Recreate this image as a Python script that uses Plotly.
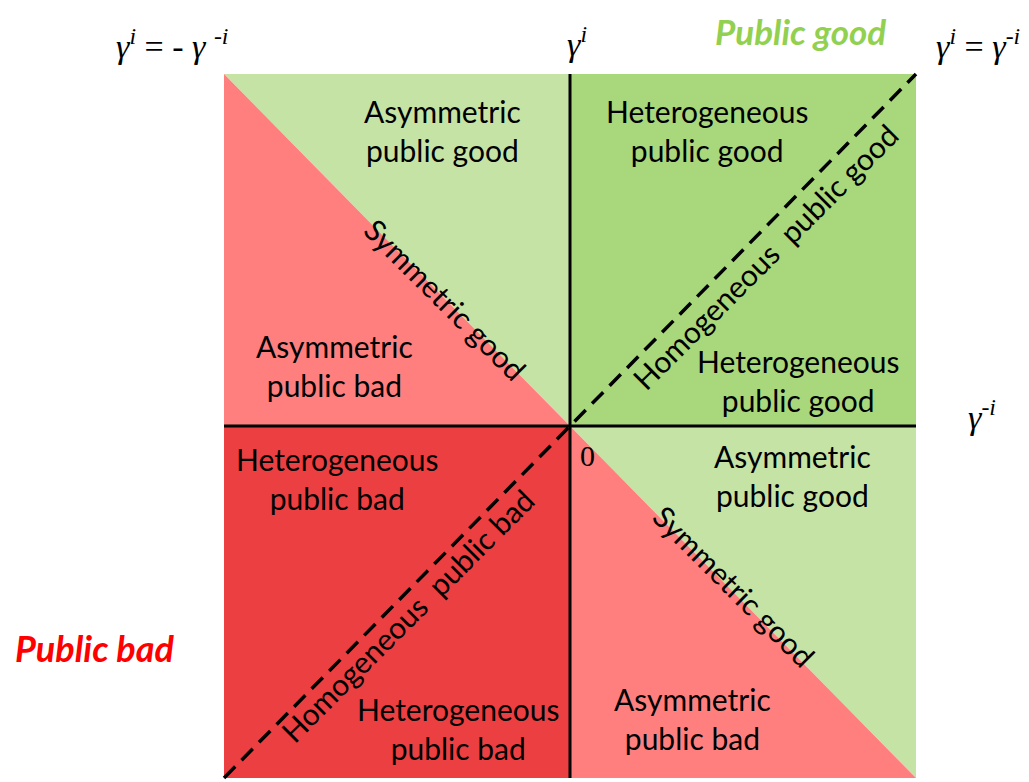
import plotly.graph_objects as go

# Region polygons in (gamma^-i, gamma^i) space
hetero_good_x = [0, 1, 1, 0]
hetero_good_y = [0, 0, 1, 1]
hetero_bad_x = [-1, 0, 0, -1]
hetero_bad_y = [-1, -1, 0, 0]
asym_good_tl_x = [-1, 0, 0]
asym_good_tl_y = [1, 1, 0]
asym_bad_tl_x = [-1, -1, 0]
asym_bad_tl_y = [1, 0, 0]
asym_good_br_x = [0, 1, 1]
asym_good_br_y = [0, 0, -1]
asym_bad_br_x = [0, 0, 1]
asym_bad_br_y = [0, -1, -1]

# Region labels: (text, x, y, angle)
region_labels = [
    ("Asymmetric<br>public good", -0.368, 0.84, 0),
    ("Heterogeneous<br>public good", 0.395, 0.84, 0),
    ("Asymmetric<br>public bad", -0.68, 0.172, 0),
    ("Heterogeneous<br>public good", 0.66, 0.13, 0),
    ("Heterogeneous<br>public bad", -0.673, -0.148, 0),
    ("Asymmetric<br>public good", 0.642, -0.142, 0),
    ("Heterogeneous<br>public bad", -0.324, -0.858, 0),
    ("Asymmetric<br>public bad", 0.353, -0.83, 0),
]
line_labels = [
    ("Symmetric good", -0.36, 0.36, 45),
    ("Homogeneous  public good", 0.565, 0.483, -45),
    ("Homogeneous  public bad", -0.47, -0.537, -45),
    ("Symmetric good", 0.476, -0.454, 45),
]

C_LG = "#C6E3A6"
C_G = "#A9D77C"
C_LR = "#FF7F7F"
C_R = "#EC3F41"

fig = go.Figure()
for xs, ys, c in [
    (hetero_good_x, hetero_good_y, C_G),
    (hetero_bad_x, hetero_bad_y, C_R),
    (asym_good_tl_x, asym_good_tl_y, C_LG),
    (asym_bad_tl_x, asym_bad_tl_y, C_LR),
    (asym_good_br_x, asym_good_br_y, C_LG),
    (asym_bad_br_x, asym_bad_br_y, C_LR),
]:
    fig.add_trace(go.Scatter(x=xs, y=ys, fill="toself", fillcolor=c, mode="none",
                             hoverinfo="skip", showlegend=False))

# axes lines
fig.add_trace(go.Scatter(x=[-1, 1], y=[0, 0], mode="lines", line=dict(color="black", width=3),
                         showlegend=False, hoverinfo="skip"))
fig.add_trace(go.Scatter(x=[0, 0], y=[-1, 1], mode="lines", line=dict(color="black", width=3),
                         showlegend=False, hoverinfo="skip"))
fig.add_trace(go.Scatter(x=[-1, 1], y=[-1, 1], mode="lines",
                         line=dict(color="black", width=3.5, dash="16px,9px"),
                         showlegend=False, hoverinfo="skip"))

for t, x, y, a in region_labels + line_labels:
    fig.add_annotation(x=x, y=y, text=t, showarrow=False, textangle=a,
                       font=dict(family="Lato", size=30, color="black"))

math_labels = [
    ("<i>γ<sup>i</sup></i> = - <i>γ</i> <sup><i>-i</i></sup>", -1.15, 1.085),
    ("<i>γ<sup>i</sup></i>", 0.02, 1.09),
    ("<i>γ<sup>i</sup></i> = <i>γ<sup>-i</sup></i>", 1.18, 1.085),
    ("<i>γ<sup>-i</sup></i>", 1.19, 0.03),
]
for t, x, y in math_labels:
    fig.add_annotation(x=x, y=y, text=t, showarrow=False,
                       font=dict(family="Liberation Serif", size=34, color="black"))
fig.add_annotation(x=0.05, y=-0.085, text="0", showarrow=False,
                   font=dict(family="Liberation Serif", size=30, color="black"))
fig.add_annotation(x=0.665, y=1.0, xref="x", yref="paper", yanchor="top",
                   text="<b><i>Public good</i></b>", showarrow=False,
                   font=dict(family="Lato", size=35, color="#92D050"))
fig.add_annotation(x=-1.372, y=-0.63, text="<b><i>Public bad</i></b>", showarrow=False,
                   font=dict(family="Lato", size=36, color="#FF0000"))

fig.update_layout(
    width=1021, height=774,
    margin=dict(l=0, r=0, t=0, b=0),
    paper_bgcolor="white", plot_bgcolor="white",
    xaxis=dict(range=[-1.6243, 1.3266], visible=False, fixedrange=True),
    yaxis=dict(range=[-1.0114, 1.1875], visible=False, fixedrange=True),
    showlegend=False,
)
fig.write_html("out.html")
